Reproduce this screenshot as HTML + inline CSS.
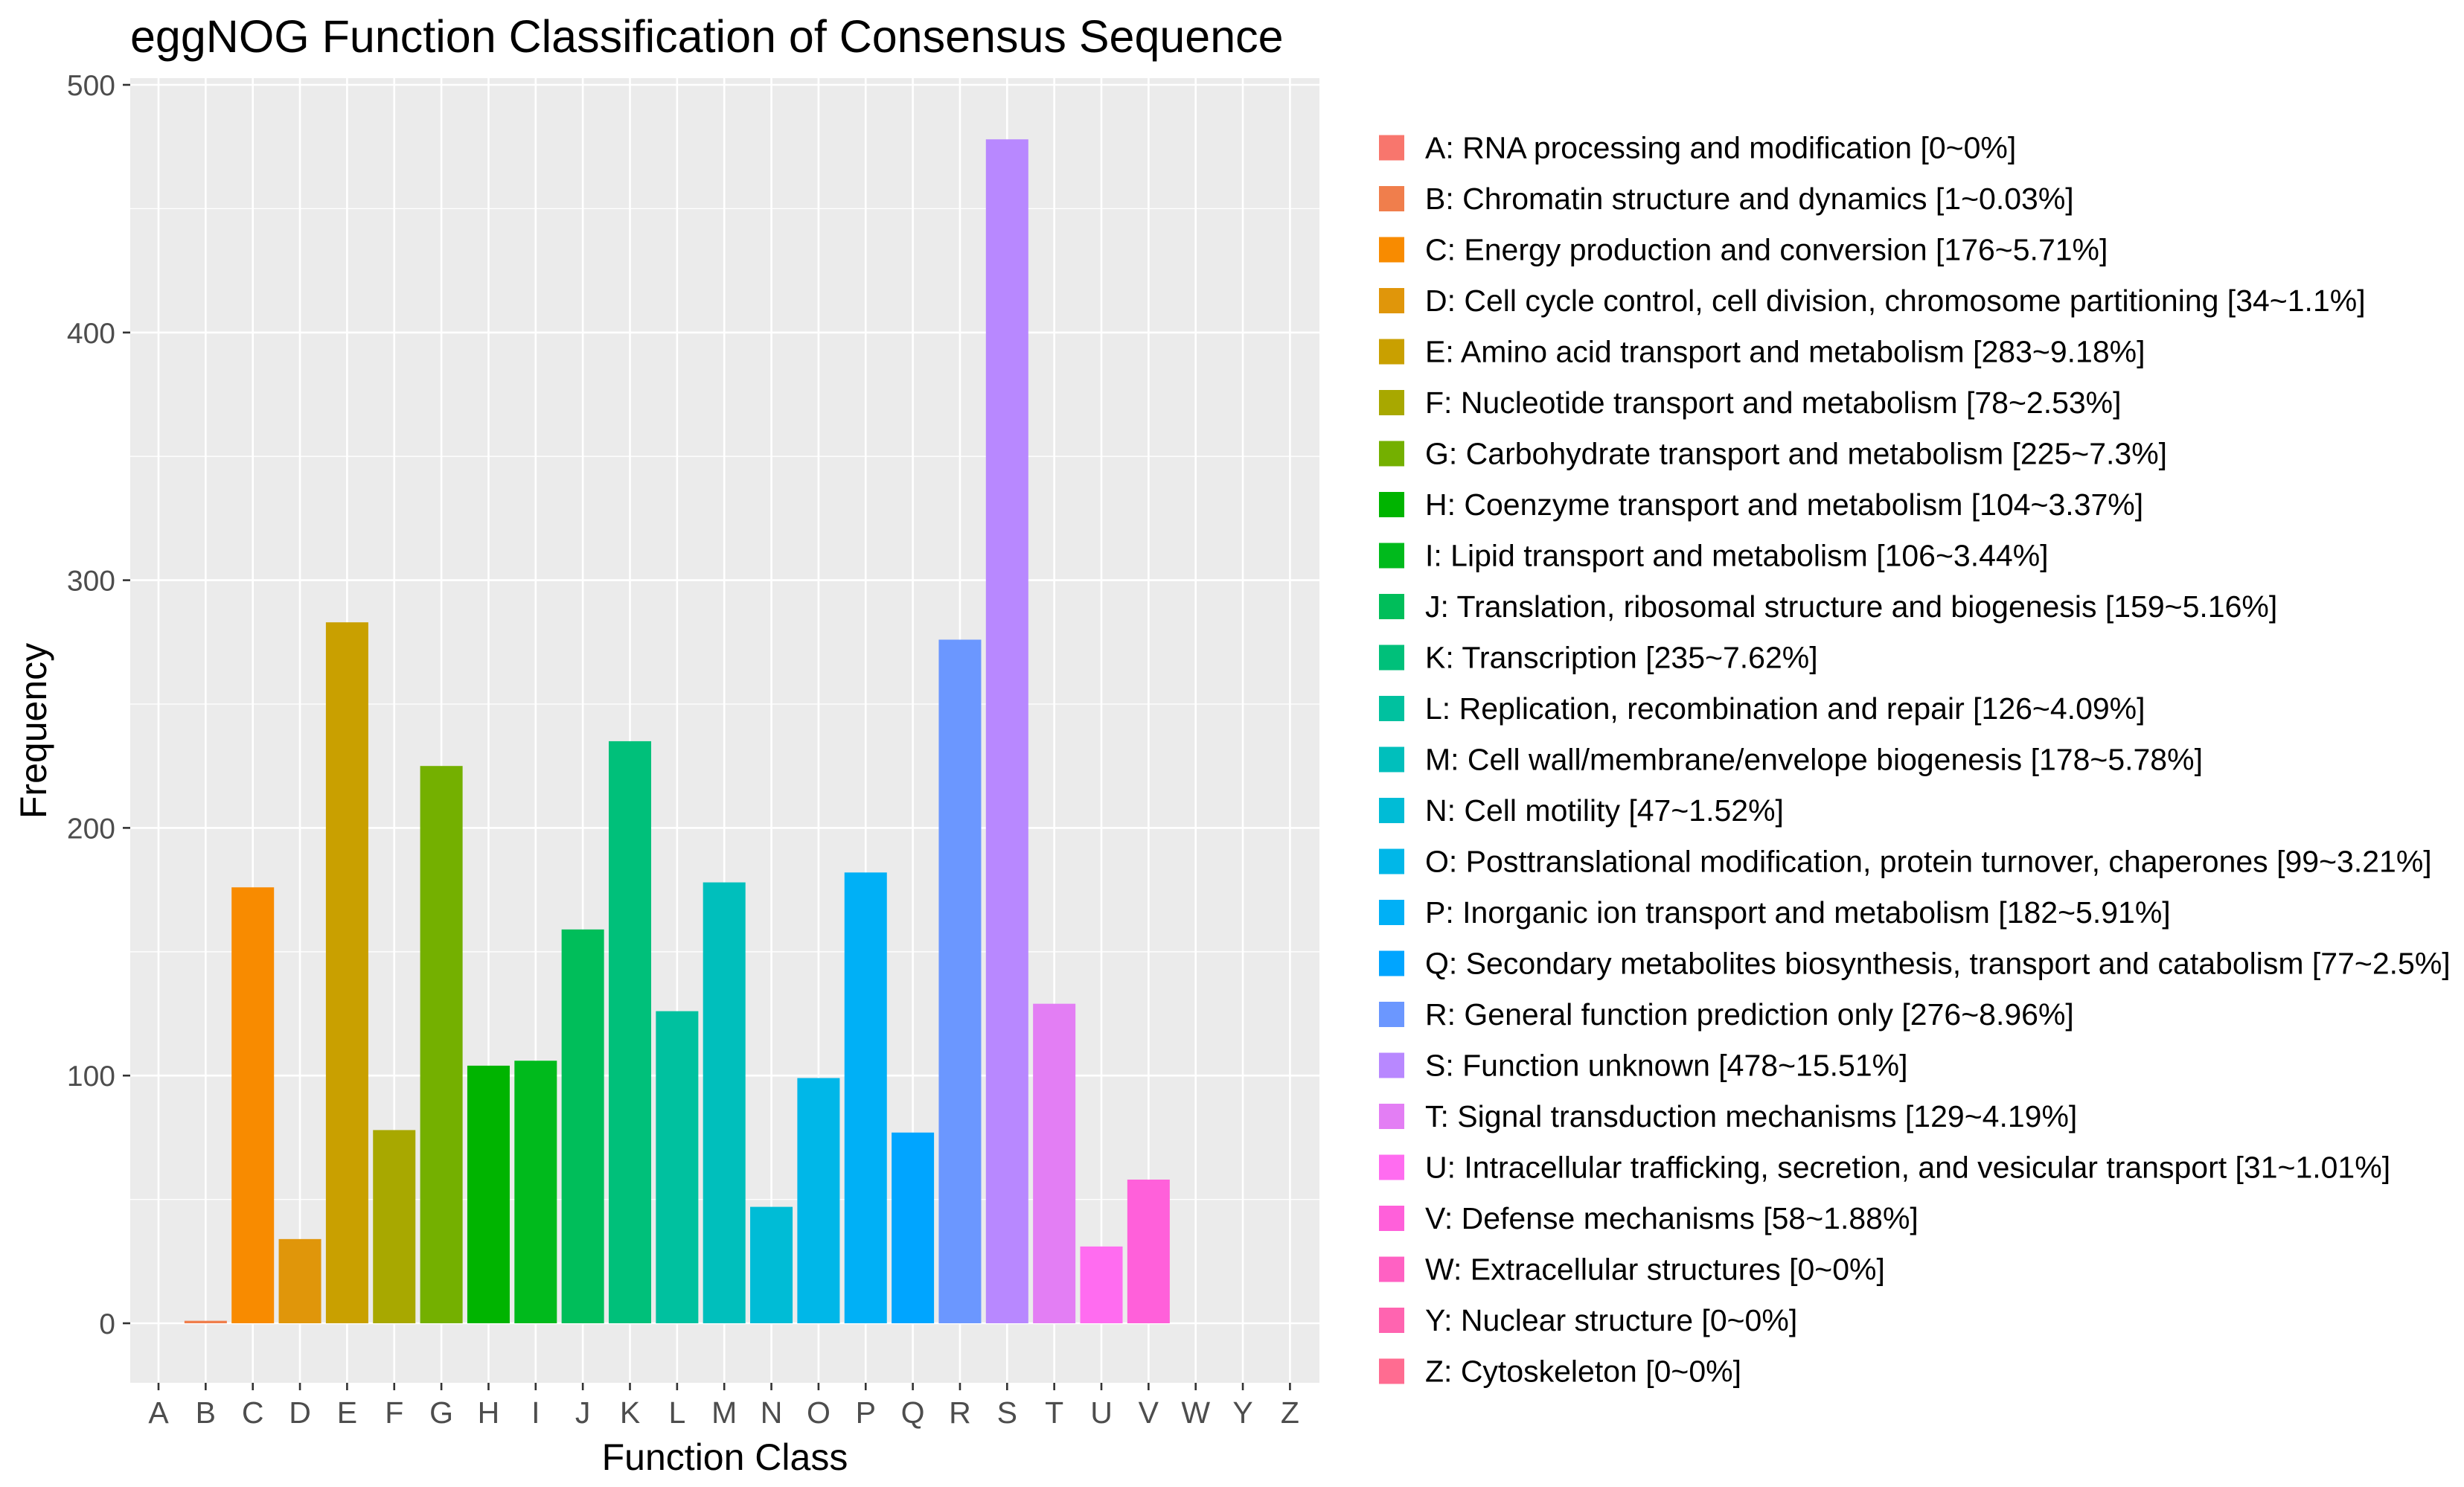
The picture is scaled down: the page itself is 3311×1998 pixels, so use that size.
<!DOCTYPE html>
<html><head><meta charset="utf-8"><style>
html,body{margin:0;padding:0;background:#fff;}
svg{display:block;font-family:"Liberation Sans",Arial,sans-serif;}
</style></head><body>
<svg id="chart" width="3311" height="1998" viewBox="0 0 3311 1998" xmlns="http://www.w3.org/2000/svg">
<text x="175" y="70" font-size="61" fill="#000">eggNOG Function Classification of Consensus Sequence</text>
<rect x="175" y="105" width="1598" height="1753" fill="#EBEBEB"/>
<g id="grid"></g><g id="bars"></g><g id="axes"></g><g id="legend"></g>
<text x="974" y="1975" font-size="50" text-anchor="middle" fill="#000">Function Class</text>
<text transform="translate(62,982) rotate(-90)" font-size="50" text-anchor="middle" fill="#000">Frequency</text>
</svg>
<script>
const categories = ["A","B","C","D","E","F","G","H","I","J","K","L","M","N","O","P","Q","R","S","T","U","V","W","Y","Z"];
const counts = [0,1,176,34,283,78,225,104,106,159,235,126,178,47,99,182,77,276,478,129,31,58,0,0,0];
const colors = ["#F8766D","#F07E4C","#F88B00","#E0960A","#C9A000","#A8A800","#74B000","#00B400","#00BA1C","#00BE5A","#00C07A","#00C19F","#00BFBC","#00BCD6","#00B7E8","#00B0F6","#00A5FF","#6B97FF","#B888FF","#E37EF4","#FF6CF0","#FF60DA","#FF61C3","#FF64B0","#FF6C91"];
const descs = ["RNA processing and modification [0~0%]","Chromatin structure and dynamics [1~0.03%]","Energy production and conversion [176~5.71%]","Cell cycle control, cell division, chromosome partitioning [34~1.1%]","Amino acid transport and metabolism [283~9.18%]","Nucleotide transport and metabolism [78~2.53%]","Carbohydrate transport and metabolism [225~7.3%]","Coenzyme transport and metabolism [104~3.37%]","Lipid transport and metabolism [106~3.44%]","Translation, ribosomal structure and biogenesis [159~5.16%]","Transcription [235~7.62%]","Replication, recombination and repair [126~4.09%]","Cell wall/membrane/envelope biogenesis [178~5.78%]","Cell motility [47~1.52%]","Posttranslational modification, protein turnover, chaperones [99~3.21%]","Inorganic ion transport and metabolism [182~5.91%]","Secondary metabolites biosynthesis, transport and catabolism [77~2.5%]","General function prediction only [276~8.96%]","Function unknown [478~15.51%]","Signal transduction mechanisms [129~4.19%]","Intracellular trafficking, secretion, and vesicular transport [31~1.01%]","Defense mechanisms [58~1.88%]","Extracellular structures [0~0%]","Nuclear structure [0~0%]","Cytoskeleton [0~0%]"];
const yTicks = [0,100,200,300,400,500];

const NS="http://www.w3.org/2000/svg";
const x0=213, step=63.35, y0=1778, per=3.328;
const PL=175, PR=1773;
function xs(i){return x0+i*step;}
function ys(v){return y0-v*per;}
function mk(tag,attrs,parent){const e=document.createElementNS(NS,tag);for(const k in attrs)e.setAttribute(k,attrs[k]);parent.appendChild(e);return e;}
const grid=document.getElementById('grid'),bars=document.getElementById('bars'),axes=document.getElementById('axes'),legend=document.getElementById('legend');
for(let v=50;v<=500;v+=100){const l=mk('line',{x1:PL,x2:PR,y1:ys(v),y2:ys(v),stroke:'#fff','stroke-width':1.3},grid);

}
yTicks.forEach(v=>{const l=mk('line',{x1:PL,x2:PR,y1:ys(v),y2:ys(v),stroke:'#fff','stroke-width':2.6},grid);


const t=mk('line',{x1:165,x2:175,y1:ys(v),y2:ys(v),stroke:'#333','stroke-width':2.6},axes);


const tx=mk('text',{x:155,y:ys(v)+14,'font-size':39,'text-anchor':'end',fill:'#4D4D4D'},axes);
tx.textContent=v;

});
categories.forEach((c,i)=>{const l=mk('line',{x1:xs(i),x2:xs(i),y1:105,y2:1858,stroke:'#fff','stroke-width':2.6},grid);


const t=mk('line',{x1:xs(i),x2:xs(i),y1:1858,y2:1868,stroke:'#333','stroke-width':2.6},axes);


const tx=mk('text',{x:xs(i),y:1912,'font-size':41,'text-anchor':'middle',fill:'#4D4D4D'},axes);
tx.textContent=c;


const bw=step*0.9;
if(counts[i]>0){const b=mk('rect',{x:xs(i)-bw/2,y:ys(counts[i]),width:bw,height:counts[i]*per,fill:colors[i]},bars);

}
const ly=198.5+i*68.5;
const k=mk('rect',{x:1853,y:ly-17,width:34,height:34,fill:colors[i]},legend);


const lt=mk('text',{x:1915,y:ly+14,'font-size':41,fill:'#000'},legend);
lt.textContent=c+': '+descs[i];


});
</script>
</body></html>
